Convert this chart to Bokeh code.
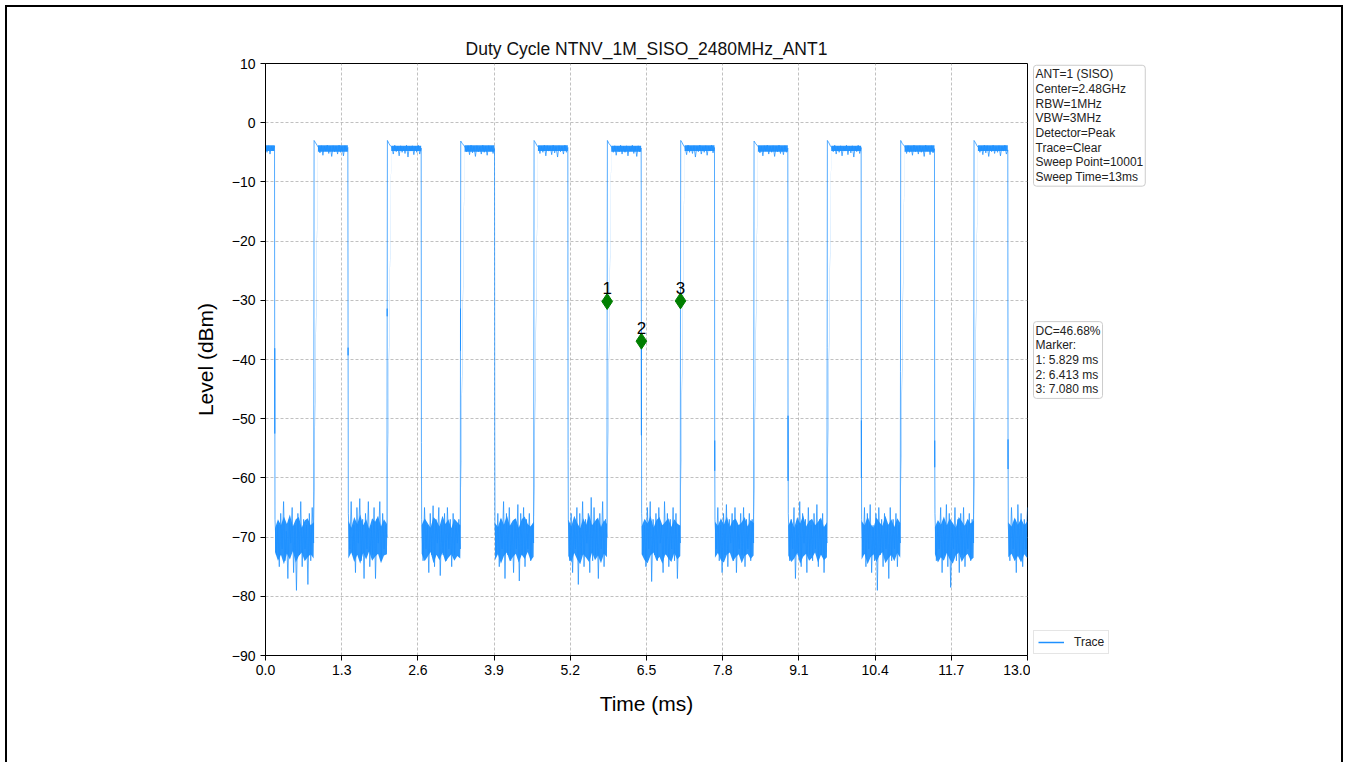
import numpy as np
from bokeh.plotting import figure
from bokeh.layouts import row
from bokeh.models import (Label, Legend, LegendItem, FixedTicker, CustomJSTickFormatter,
                          Range1d, ColumnDataSource)
from bokeh.core.properties import value
from bokeh.embed import file_html
from bokeh.resources import INLINE

# ---------------- data ----------------
title_text = "Duty Cycle NTNV_1M_SISO_2480MHz_ANT1"
x_ticks = [0.0, 1.3, 2.6, 3.9, 5.2, 6.5, 7.8, 9.1, 10.4, 11.7, 13.0]
y_ticks = [-90, -80, -70, -60, -50, -40, -30, -20, -10, 0, 10]

# burst edges (ms)
rise_ms = [0.825, 2.076, 3.327, 4.578, 5.829, 7.080, 8.331, 9.582, 10.833, 12.084]
fall_ms = [0.158, 1.409, 2.660, 3.911, 5.162, 6.413, 7.664, 8.915, 10.166, 11.417, 12.668]

# samples caught on the edges (dBm)
fall_mid = [[-52.5, -38.1], [-39.3, -38.0], [-54.0], [-52.0], [-55.0],
            [-36.9, -52.8, -37.5], [-58.8, -53.7], [-60.5, -49.5], [-60.0, -50.3],
            [-58.2, -53.7], [-58.5, -53.5]]
rise_mid = [[-45.0], [-31.4, -32.7], [-31.4, -38.5], [-40.0], [-30.2], [-30.1],
            [-40.0], [-38.0], [-42.0], [-40.0]]

# burst (ON) level samples
on_vals = [
    [-4.1, -5.0, -3.9, -5.3, -4.0, -4.7, -3.9],
    [-3.0, -3.4, -3.8, -4.2, -5.1, -3.9, -5.5, -4.0, -4.8, -3.8, -5.2, -4.0, -5.7, -3.9, -4.9, -4.0, -5.3, -3.8, -5.0, -4.1, -5.6, -3.9, -4.8, -4.2],
    [-3.0, -3.5, -3.9, -4.1, -5.3, -3.8, -4.9, -4.0, -5.6, -3.9, -5.0, -4.1, -5.2, -3.8, -5.8, -4.0, -4.8, -3.9, -5.4, -4.0, -5.0, -3.8, -5.3, -4.3],
    [-3.1, -3.5, -3.8, -4.2, -4.9, -3.9, -5.4, -3.8, -5.1, -4.0, -5.7, -3.9, -4.9, -4.1, -5.3, -3.8, -5.0, -4.0, -5.5, -3.9, -4.8, -4.0, -5.2, -4.4],
    [-3.0, -3.4, -3.9, -4.1, -5.2, -4.0, -5.0, -3.8, -5.6, -3.9, -4.8, -4.0, -5.4, -3.8, -5.1, -4.1, -5.8, -3.9, -4.9, -4.0, -5.3, -3.8, -5.0, -4.2],
    [-3.0, -3.5, -3.8, -4.2, -5.0, -3.9, -5.5, -4.0, -4.9, -3.8, -5.3, -4.0, -5.0, -3.9, -5.6, -4.1, -4.8, -3.8, -5.2, -4.0, -5.7, -3.9, -4.9, -4.3],
    [-3.0, -3.4, -3.9, -4.2, -5.4, -3.8, -5.0, -4.0, -5.2, -3.9, -5.8, -4.0, -4.9, -3.8, -5.3, -4.1, -5.0, -3.9, -5.5, -4.0, -4.8, -3.8, -5.1, -4.2],
    [-3.1, -3.5, -3.8, -4.1, -5.1, -4.0, -5.6, -3.9, -4.8, -3.8, -5.3, -4.0, -5.0, -3.9, -5.7, -4.0, -4.9, -3.8, -5.2, -4.1, -5.4, -3.9, -5.0, -4.3],
    [-3.0, -3.4, -3.9, -4.2, -4.9, -3.8, -5.3, -4.0, -5.0, -3.9, -5.6, -4.1, -4.8, -3.8, -5.4, -4.0, -5.1, -3.9, -5.8, -4.0, -4.9, -3.8, -5.2, -4.2],
    [-3.0, -3.5, -3.8, -4.1, -5.2, -3.9, -5.0, -4.0, -5.5, -3.8, -4.9, -4.0, -5.3, -3.9, -5.0, -4.1, -5.7, -3.8, -4.8, -4.0, -5.4, -3.9, -5.1, -4.4],
    [-3.0, -3.4, -3.9, -4.2, -5.0, -4.0, -5.4, -3.8, -5.1, -3.9, -5.7, -4.0, -4.9, -3.8, -5.2, -4.1, -5.0, -3.9, -5.6, -4.0, -4.8, -3.8, -5.3, -4.6],
]
# dense part of the burst level (top / bottom, dBm)
on_band_top = [-3.8, -3.8, -3.9, -3.8, -3.8, -3.9, -3.8, -3.8, -3.9, -3.8, -3.8]
on_band_bot = [-4.8, -4.9, -4.8, -4.9, -4.8, -4.9, -4.8, -4.9, -4.8, -4.9, -4.8]

# noise floor samples between bursts
gap_vals = [
    [-67, -73, -68, -75, -66, -72, -64, -74, -69, -77, -67, -71, -65, -76, -68, -79, -66, -73, -64, -75, -67, -72, -68, -78, -66, -74, -65, -71],
    [-66, -72, -64, -73, -68, -76, -65, -71, -63.5, -74, -67, -77, -66, -72, -64, -75, -68, -73, -65, -77, -67, -71, -64, -74, -66, -72, -68, -70],
    [-67, -74, -65, -72, -68, -76, -66, -73, -64.7, -75, -67, -71, -65, -76.5, -68, -73, -66, -74, -65, -72, -67, -75, -66, -73, -68, -71, -67, -72],
    [-68, -73, -66, -75, -67, -72, -64, -77, -66, -73, -65, -74, -68, -76, -67, -72, -64.5, -77.4, -66, -73, -65, -75, -67, -72, -66, -74, -68, -71],
    [-67, -74, -66, -76, -68, -72, -65, -78, -66, -73, -64, -75, -67, -71, -66, -76, -63.3, -74, -65, -73, -67, -77, -66, -72, -64, -75, -67, -70],
    [-66, -73, -68, -75, -65, -72, -64, -77.5, -67, -73, -66, -74, -65, -71, -68, -76, -64, -73, -66, -75, -67, -72, -65, -74, -66, -77, -68, -71],
    [-67, -72, -65, -74, -68, -76, -66, -73, -64.5, -75, -67, -71, -66, -74, -65, -76, -68, -72, -66, -73, -65, -75, -67, -72, -66, -74, -67, -71],
    [-66, -74, -67, -72, -65, -77, -68, -73, -64, -75, -66, -71, -67, -76, -65, -73, -68, -74, -66, -72, -64.5, -75, -67, -73, -66, -76, -68, -71],
    [-67, -73, -65, -75, -66, -72, -64.5, -76, -68, -74, -66, -79, -65, -73, -67, -75, -66, -72, -68, -77, -65, -74, -67, -72, -66, -75, -68, -71],
    [-66, -74, -68, -72, -65, -76, -67, -73, -64.5, -75, -66, -78.5, -68, -72, -65, -74, -67, -76, -66, -73, -65, -75, -68, -72, -66, -74, -67, -71],
    [-68, -74, -65, -72, -67, -76, -64.5, -73, -66, -75, -67, -72, -65],
]
# dense core of the noise floor (upper / lower edge, dBm)
core_hi = [
    [-68.5, -67.0, -68.0, -66.5, -67.8, -66.2, -68.2, -67.0, -66.6, -68.4, -67.2, -66.8, -68.0, -67.5],
    [-67.2, -68.4, -66.6, -67.8, -66.2, -68.0, -67.0, -68.6, -66.8, -67.4, -66.4, -68.2, -67.0, -67.8],
    [-68.0, -66.8, -67.6, -68.4, -66.6, -67.2, -68.2, -66.4, -67.8, -67.0, -68.5, -66.9, -67.5, -68.0],
    [-67.6, -68.3, -66.7, -67.9, -66.3, -68.1, -67.2, -66.8, -68.4, -67.0, -66.5, -67.8, -68.2, -67.4],
    [-67.0, -68.2, -66.4, -67.6, -68.5, -66.8, -67.9, -66.2, -68.0, -67.3, -66.7, -68.3, -67.1, -67.8],
    [-68.2, -66.9, -67.7, -66.4, -68.4, -67.1, -66.6, -68.0, -67.4, -66.8, -68.3, -67.0, -67.7, -68.1],
    [-67.4, -68.1, -66.8, -67.9, -66.5, -68.3, -67.2, -66.9, -68.0, -67.5, -66.6, -68.2, -67.1, -67.6],
    [-68.1, -67.0, -68.4, -66.6, -67.7, -66.3, -68.2, -67.3, -66.9, -68.0, -67.4, -66.7, -68.3, -67.5],
    [-67.3, -68.0, -66.5, -67.8, -68.4, -66.7, -67.5, -68.1, -66.4, -67.9, -67.0, -68.3, -66.8, -67.6],
    [-68.3, -67.1, -67.9, -66.5, -68.0, -66.8, -67.6, -68.4, -66.6, -67.3, -68.1, -66.9, -67.7, -67.2],
    [-67.5, -68.2, -66.7, -67.9, -66.9, -68.0, -67.3],
]
core_lo = [
    [-72.5, -74.0, -73.0, -74.6, -72.8, -73.8, -72.4, -74.3, -73.2, -72.6, -74.1, -73.4, -72.9, -73.6],
    [-73.6, -72.6, -74.2, -73.0, -74.5, -72.7, -73.8, -72.4, -74.0, -73.3, -72.8, -74.4, -73.1, -72.9],
    [-72.8, -74.1, -73.3, -72.5, -74.4, -73.0, -73.9, -72.6, -74.2, -73.5, -72.9, -74.0, -73.2, -73.6],
    [-73.9, -72.9, -74.5, -73.2, -72.6, -74.1, -73.4, -72.8, -74.3, -73.0, -73.7, -72.5, -74.0, -73.3],
    [-73.2, -74.3, -72.7, -73.8, -74.6, -72.9, -73.5, -74.2, -72.6, -73.9, -73.1, -74.4, -72.8, -73.4],
    [-72.9, -73.9, -74.4, -73.1, -72.6, -74.0, -73.3, -74.5, -72.8, -73.6, -74.2, -72.7, -73.8, -73.2],
    [-73.5, -72.7, -73.9, -74.3, -73.0, -72.6, -74.1, -73.4, -72.9, -74.4, -73.2, -72.8, -73.7, -73.1],
    [-73.1, -74.2, -73.6, -72.7, -74.5, -73.3, -72.8, -74.0, -73.5, -72.6, -74.3, -73.0, -73.9, -73.4],
    [-73.8, -72.8, -74.6, -73.4, -72.9, -74.2, -73.1, -72.5, -74.4, -73.6, -73.0, -74.1, -72.7, -73.5],
    [-72.9, -74.3, -73.4, -74.0, -72.7, -73.8, -74.5, -73.1, -72.6, -74.2, -73.3, -72.8, -73.9, -73.5],
    [-73.4, -72.8, -74.1, -73.2, -74.3, -72.9, -73.6],
]

marker_t = [5.829, 6.413, 7.080]
marker_v = [-30.2, -36.9, -30.1]
marker_names = ["1", "2", "3"]

info_lines = ["ANT=1 (SISO)", "Center=2.48GHz", "RBW=1MHz", "VBW=3MHz", "Detector=Peak",
              "Trace=Clear", "Sweep Point=10001", "Sweep Time=13ms"]
dc_lines = ["DC=46.68%", "Marker:", "1: 5.829 ms", "2: 6.413 ms", "3: 7.080 ms"]

# ---------------- assemble the trace (time axis of each stretch) ----------------
eps = 0.004
t_all, v_all = [], []
band_t, band_hi, band_lo = [], [], []
for i in range(len(fall_ms)):
    t0 = 0.0 if i == 0 else rise_ms[i - 1] + eps
    t1 = fall_ms[i] - eps
    t_all += list(np.linspace(t0, t1, len(on_vals[i])))
    v_all += on_vals[i]
    b0 = 0.0 if i == 0 else rise_ms[i - 1] + 0.07
    band_t += [b0, t1, np.nan]
    band_hi += [on_band_top[i], on_band_top[i], np.nan]
    band_lo += [on_band_bot[i], on_band_bot[i], np.nan]
    t_all += [fall_ms[i]] * len(fall_mid[i])
    v_all += fall_mid[i]
    g0 = fall_ms[i] + eps
    g1 = rise_ms[i] - eps if i < len(rise_ms) else 13.0
    t_all += list(np.linspace(g0, g1, len(gap_vals[i])))
    v_all += gap_vals[i]
    band_t += list(np.linspace(g0, g1, len(core_hi[i]))) + [np.nan]
    band_hi += core_hi[i] + [np.nan]
    band_lo += core_lo[i] + [np.nan]
    if i < len(rise_ms):
        t_all += [rise_ms[i]] * len(rise_mid[i])
        v_all += rise_mid[i]

FONT = "Liberation Sans"
BLUE = "#1E90FF"
H = 755

p = figure(frame_width=762, frame_height=592, x_range=Range1d(0, 13), y_range=Range1d(-90, 10),
           output_backend="svg", toolbar_location=None, title=title_text,
           min_border_left=258, min_border_right=3, min_border_top=56, min_border_bottom=H - 56 - 592)

p.title.align = "center"
p.title.text_font = FONT
p.title.text_font_size = "17.5px"
p.title.text_font_style = "normal"
p.title.text_color = "#111111"
p.title.standoff = 9

p.outline_line_color = "black"
p.outline_line_width = 1
p.outline_line_alpha = 1

for ax in (p.xaxis[0], p.yaxis[0]):
    ax.major_tick_out = 5
    ax.major_tick_in = 0
    ax.minor_tick_out = 0
    ax.minor_tick_in = 0
    ax.axis_line_color = "black"
    ax.major_tick_line_color = "black"
    ax.major_label_text_font = FONT
    ax.major_label_text_font_size = "14px"
    ax.major_label_text_color = "black"
    ax.axis_label_text_font = FONT
    ax.axis_label_text_font_size = "21px"
    ax.axis_label_text_font_style = "normal"
    ax.axis_label_text_color = "black"

p.xaxis.ticker = FixedTicker(ticks=x_ticks)
p.xaxis.formatter = CustomJSTickFormatter(code="return tick.toFixed(1);")
p.yaxis.ticker = FixedTicker(ticks=y_ticks)
p.yaxis.formatter = CustomJSTickFormatter(code="return tick < 0 ? '\u2212' + Math.abs(tick) : String(tick);")
p.xaxis.axis_label = "Time (ms)"
p.yaxis.axis_label = "Level (dBm)"
p.xaxis.axis_label_standoff = 14
p.yaxis.axis_label_standoff = 12
p.xaxis.major_label_standoff = 4
p.yaxis.major_label_standoff = 5

for g in (p.xgrid[0], p.ygrid[0]):
    g.grid_line_color = "#b0b0b0"
    g.grid_line_dash = "3 2"
    g.grid_line_width = 0.8

bsrc = ColumnDataSource(dict(t=band_t, hi=band_hi, lo=band_lo))
p.varea("t", "hi", "lo", source=bsrc, fill_color=BLUE, fill_alpha=0.95)
src = ColumnDataSource(dict(t=t_all, v=v_all))
p.line("t", "v", source=src, line_color=BLUE, line_width=0.75)

msrc = ColumnDataSource(dict(t=marker_t, v=marker_v, n=marker_names))
p.scatter("t", "v", source=msrc, marker="diamond", size=16, fill_color="#007f00",
          line_color="#007f00")
p.text("t", "v", text="n", source=msrc, text_align="center", text_baseline="bottom",
       y_offset=-7, text_font=value(FONT), text_font_size="17px", text_color="black")

# side panel holding the info boxes and the legend (frame aligned with the main plot)
W2 = 1334 - (258 + 762 + 3)
p2 = figure(width=W2, height=H, x_range=Range1d(0, W2), y_range=Range1d(-90, 10),
            x_axis_type=None, y_axis_type=None, output_backend="svg", toolbar_location=None,
            min_border=0)
p2.grid.visible = False
p2.outline_line_color = None

info = Label(x=3, y=9.7, anchor="top_left",
             text="\n".join(info_lines), text_font=FONT, text_font_size="12px",
             text_color="#222222", text_line_height=1.05,
             background_fill_color="white", border_line_color="#cccccc",
             border_line_width=1, padding=2, border_radius=3)
p2.add_layout(info)
dc = Label(x=3, y=-33.6, anchor="top_left",
           text="\n".join(dc_lines), text_font=FONT, text_font_size="12px",
           text_color="#222222", text_line_height=1.05,
           background_fill_color="white", border_line_color="#cccccc",
           border_line_width=1, padding=2, border_radius=3)
p2.add_layout(dc)

dummy = p2.line([-20, -10], [0, 0], line_color=BLUE, line_width=1.5)
legend = Legend(items=[LegendItem(label="Trace", renderers=[dummy])], location=(3, 1),
                label_text_font=FONT, label_text_font_size="12px", label_text_color="#222222",
                border_line_color="#cccccc", border_line_width=1, background_fill_color="white",
                padding=4, margin=0, glyph_width=26, glyph_height=12, label_height=12,
                label_standoff=10, spacing=0)
p2.add_layout(legend)

layout = row(p, p2)
layout.styles = {"border-top": "2px solid black", "border-left": "2px solid black",
                 "border-right": "2px solid black", "margin-left": "5px", "margin-top": "5px"}

open("out.html", "w").write(file_html(layout, INLINE))
